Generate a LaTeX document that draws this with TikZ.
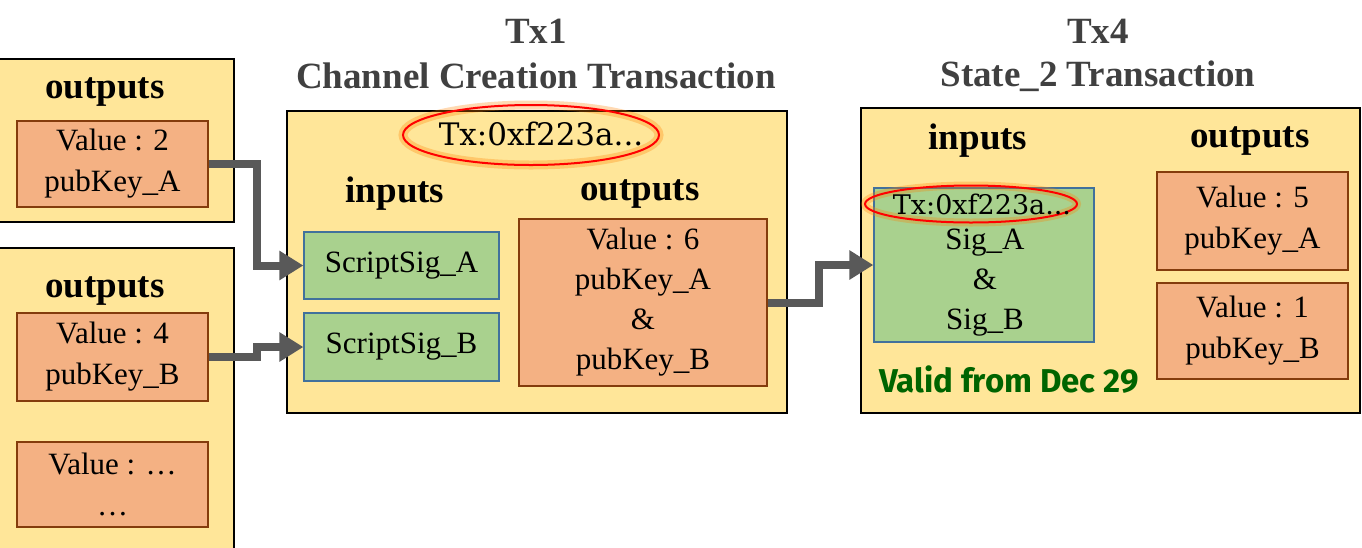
\documentclass[tikz,border=0pt]{standalone}
\usepackage{fontspec}
\setmainfont{Liberation Serif}
\newfontfamily\txfont{DejaVu Serif}
\newfontfamily\validfont{Fira Sans}
\usetikzlibrary{arrows.meta,shapes.geometric}
\definecolor{yel}{HTML}{FFE699}
\definecolor{org}{HTML}{F4B183}
\definecolor{brn}{HTML}{843C0C}
\definecolor{grn}{HTML}{A9D18E}
\definecolor{blu}{HTML}{41719C}
\definecolor{arrg}{HTML}{595959}
\definecolor{ttl}{HTML}{404040}
\definecolor{vgreen}{HTML}{006400}
\begin{document}
\begin{tikzpicture}[x=1pt,y=-1pt,
  ybox/.style={draw=black,line width=2pt,fill=yel,inner sep=0pt},
  obox/.style={draw=brn,line width=1.6pt,fill=org,inner sep=0pt,align=center,
    font=\fontsize{31}{41}\selectfont},
  gbox/.style={draw=blu,line width=1.3pt,fill=grn,inner sep=0pt,align=center,
    font=\fontsize{31}{41}\selectfont},
  hdr/.style={font=\fontsize{37}{40}\selectfont\bfseries,inner sep=0pt},
  ttlstyle/.style={font=\fontsize{37}{40}\selectfont\bfseries,text=ttl,inner sep=0pt},
  redell/.style={ellipse,draw=red,line width=2pt,inner sep=0pt},
  glowell/.style={ellipse,draw=orange,line width=9pt,draw opacity=0.3,inner sep=0pt},
  arr/.style={draw=arrg,line width=8pt,line join=miter,
    -{Triangle[length=24pt,width=28pt]}},
  plain/.style={font=\fontsize{31}{40}\selectfont,inner sep=0pt,align=center}
]
\useasboundingbox (0,0) rectangle (1362,547);

% titles
\node[ttlstyle] (t1a) at (536,31) {Tx1};
\node[ttlstyle] (t1b) at (536,76) {Channel Creation Transaction};
\node[ttlstyle] (t4a) at (1098,31) {Tx4};
\node[ttlstyle] (t4b) at (1098,76) {State\_2 Transaction};

% left boxes
\node[ybox,anchor=north west,minimum width=253pt,minimum height=163pt] (L1) at (-20,58) {};
\node[ybox,anchor=north west,minimum width=253pt,minimum height=330pt] (L2) at (-20,247) {};
\node[hdr] (L1h) at (105,92) {outputs};
\node[hdr] (L2h) at (105,291) {outputs};
\node[obox,minimum width=191pt,minimum height=86pt] (vA) at (112.5,164) {Value : 2\\pubKey\_A};
\node[obox,minimum width=191pt,minimum height=88pt] (vB) at (112.5,357) {Value : 4\\pubKey\_B};
\node[obox,minimum width=191pt,minimum height=85pt] (vC) at (112.5,484.5) {Value : …\\…};

% Tx1
\node[ybox,minimum width=500pt,minimum height=302pt] (T1) at (537,261.5) {};
\node[glowell,minimum width=256pt,minimum height=60pt] (e1g) at (531,135) {};
\node[redell,minimum width=256pt,minimum height=60pt] (e1) at (531,135) {};
\node[font=\fontsize{31}{34}\selectfont\txfont,inner sep=0pt] (e1t) at (541,134) {Tx:0xf223a...};
\node[hdr] (in1) at (395,194) {inputs};
\node[hdr] (out1) at (640,194) {outputs};
\node[gbox,minimum width=195pt,minimum height=67pt] (ssA) at (401.5,265.5) {ScriptSig\_A};
\node[gbox,minimum width=195pt,minimum height=68pt] (ssB) at (401.5,347) {ScriptSig\_B};
\node[obox,minimum width=248pt,minimum height=167pt,
  font=\fontsize{31}{40}\selectfont] (v6) at (643,302.5) {Value : 6\\pubKey\_A\\\&\\pubKey\_B};

% Tx4
\node[ybox,minimum width=499pt,minimum height=305pt] (T4) at (1110,260.5) {};
\node[hdr] (in4) at (978,141) {inputs};
\node[hdr] (out4) at (1250,141) {outputs};
\node[gbox,minimum width=220pt,minimum height=154pt] (g4) at (984,265) {};
\node[plain] (g4t) at (985,283) {Sig\_A\\\&\\Sig\_B};
\node[glowell,line width=8pt,minimum width=212pt,minimum height=37pt] (e4g) at (971,204) {};
\node[redell,minimum width=212pt,minimum height=37pt] (e4) at (971,204) {};
\node[font=\fontsize{27}{30}\selectfont\txfont,inner sep=0pt] (e4t) at (982,204) {Tx:0xf223a...};
\node[obox,minimum width=191pt,minimum height=98pt] (v5) at (1252.5,221) {Value : 5\\pubKey\_A};
\node[obox,minimum width=191pt,minimum height=96pt] (v1) at (1252.5,331) {Value : 1\\pubKey\_B};

% valid text
\node[font=\fontsize{33}{35}\selectfont\validfont\bfseries,text=vgreen,inner sep=0pt]
  (valid) at (1009,380) {Valid from Dec 29};

% arrows
\coordinate (k1) at (257,215);
\coordinate (k2) at (257,352);
\coordinate (k3) at (819,285);
\draw[arr] (vA.east) -| (k1) |- (ssA.west);
\draw[arr] (vB.east) -| (k2) |- (ssB.west);
\draw[arr] (v6.east) -| (k3) |- (g4.west);
\end{tikzpicture}
\end{document}
